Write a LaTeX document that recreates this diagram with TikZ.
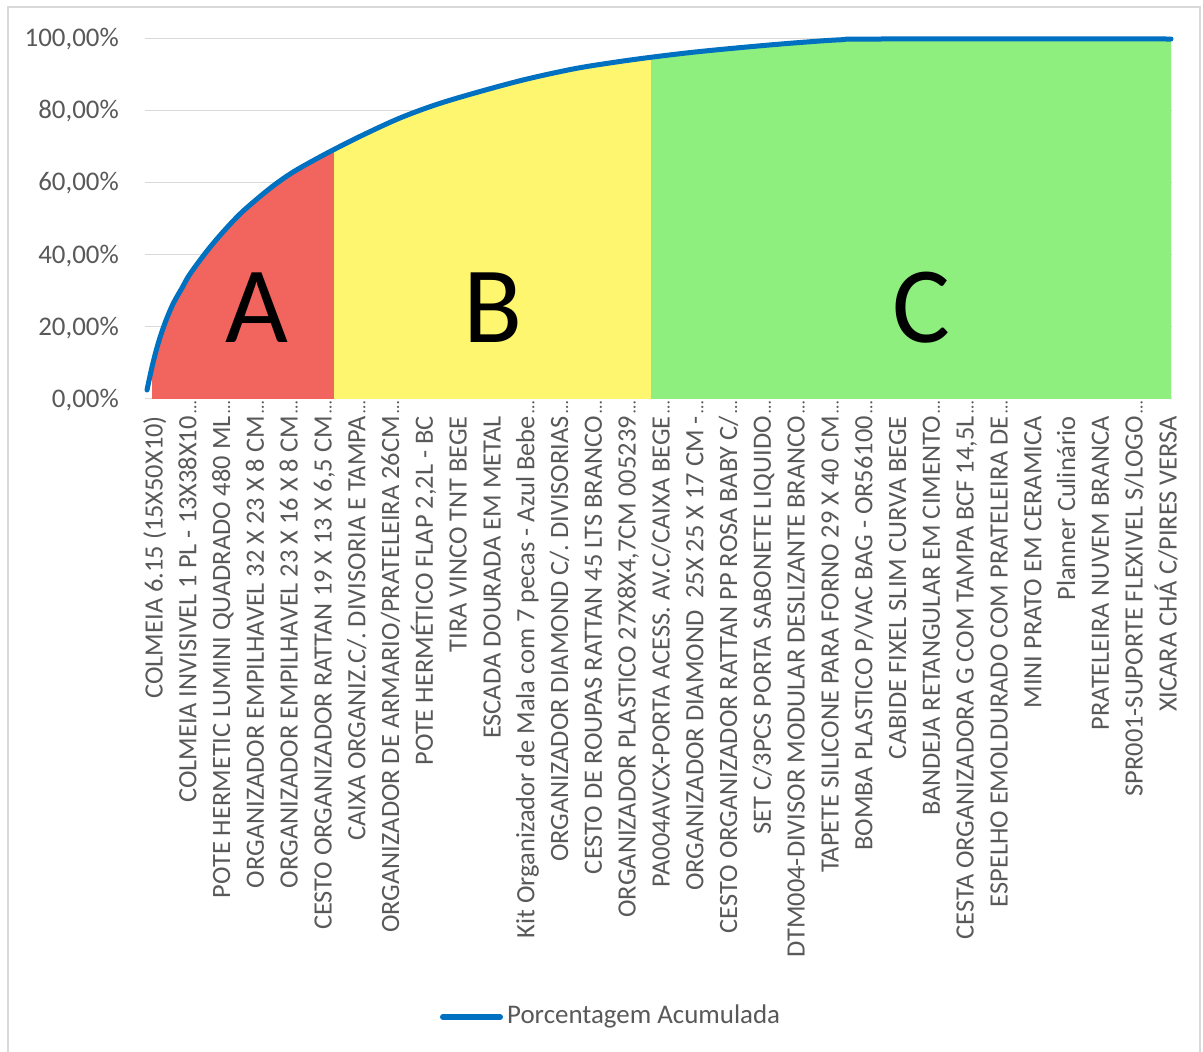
\documentclass[tikz,border=0pt]{standalone}
\usepackage{fontspec}
\setmainfont{Carlito}
\definecolor{cA}{HTML}{F2645E}
\definecolor{cB}{HTML}{FEF66E}
\definecolor{cC}{HTML}{8EEF7E}
\definecolor{cLine}{HTML}{0070C0}
\definecolor{cGrid}{HTML}{D9D9D9}
\definecolor{cText}{HTML}{595959}
\newcommand\myellip{\rlap{\hspace{3bp}{\fontsize{18}{18}\selectfont …}}}
\begin{document}
\frenchspacing
\begin{tikzpicture}[x=1bp,y=-1bp,
  ylab/.style={anchor=base east, inner sep=0pt, text=cText, font=\fontsize{27}{32}\selectfont},
  xlab/.style={rotate=90, anchor=base east, inner sep=0pt, text=cText, font=\fontsize{26.5}{32}\selectfont},
  bigletter/.style={anchor=base, inner sep=0pt, text=black, font=\fontsize{109}{120}\selectfont},
  gridline/.style={draw=cGrid, line width=1.5bp},
  paretocurve/.style={draw=cLine, line width=5bp, line cap=round, line join=round}]
\useasboundingbox (0,0) rectangle (1203,1052);
\fill[white] (0,0) rectangle (1203,1052);
\draw[cGrid, line width=2bp] (7.5,1060) -- (7.5,6.5) -- (1199.5,6.5) -- (1199.5,1060);
% gridlines
\foreach \v in {0,...,5}{
  \draw[gridline] (145,{398.6-72.06*\v}) -- (1172,{398.6-72.06*\v});
}
% coloured areas
\foreach \a/\b/\c in {152/334/cA,334/651/cB,651/1171/cC}{
  \begin{scope}
    \clip (\a,0) rectangle (\b,398);
    \fill[\c] plot[smooth, tension=0.55] coordinates {(147,390) (152,367) (158,344) (165,323) (173,304) (182,288) (190,274) (207,251) (223,232) (240,214) (257,199) (273,186) (290,174) (307,164) (333,150) (365,134) (400,118) (435,105) (473,93.5) (523,80) (573,69) (613,62.5) (653,57) (700,51.5) (758,46) (800,42.5) (840,39.8) (880,39) (1171,39)} -- (1171,400) -- (147,400) -- cycle;
  \end{scope}
}
% cumulative curve
\draw[paretocurve] plot[smooth, tension=0.55] coordinates {(147,390) (152,367) (158,344) (165,323) (173,304) (182,288) (190,274) (207,251) (223,232) (240,214) (257,199) (273,186) (290,174) (307,164) (333,150) (365,134) (400,118) (435,105) (473,93.5) (523,80) (573,69) (613,62.5) (653,57) (700,51.5) (758,46) (800,42.5) (840,39.8) (880,39) (1171,39)};
% class letters
\node[bigletter] (lA) at (257,342) {A};
\node[bigletter] (lB) at (493,342) {B};
\node[bigletter] (lC) at (921,342) {C};
% y axis labels
\node[ylab] (y0) at (119,407.1) {0,00\%};
\node[ylab] (y1) at (119,335.0) {20,00\%};
\node[ylab] (y2) at (119,263.0) {40,00\%};
\node[ylab] (y3) at (119,190.9) {60,00\%};
\node[ylab] (y4) at (119,118.9) {80,00\%};
\node[ylab] (y5) at (119,46.8) {100,00\%};
% x axis labels
\node[xlab] (x1) at (162.5,416) {COLMEIA 6.15 (15X50X10)};
\node[xlab] (x2) at (196.3,416) {COLMEIA INVISIVEL 1 PL - 13X38X10\myellip};
\node[xlab] (x3) at (230.1,416) {POTE HERMETIC LUMINI QUADRADO 480 ML\myellip};
\node[xlab] (x4) at (263.9,416) {ORGANIZADOR EMPILHAVEL 32 X 23 X 8 CM\myellip};
\node[xlab] (x5) at (297.7,416) {ORGANIZADOR EMPILHAVEL 23 X 16 X 8 CM\myellip};
\node[xlab] (x6) at (331.5,416) {CESTO ORGANIZADOR RATTAN 19 X 13 X 6,5 CM\myellip};
\node[xlab] (x7) at (365.3,416) {CAIXA ORGANIZ.C/. DIVISORIA E TAMPA\myellip};
\node[xlab] (x8) at (399.1,416) {ORGANIZADOR DE ARMARIO/PRATELEIRA 26CM\myellip};
\node[xlab] (x9) at (432.9,416) {POTE HERMÉTICO FLAP 2,2L - BC};
\node[xlab] (x10) at (466.7,416) {TIRA VINCO TNT BEGE};
\node[xlab] (x11) at (500.5,416) {ESCADA DOURADA EM METAL};
\node[xlab] (x12) at (534.3,416) {Kit Organizador de Mala com 7 pecas - Azul Bebe\myellip};
\node[xlab] (x13) at (568.1,416) {ORGANIZADOR DIAMOND C/. DIVISORIAS\myellip};
\node[xlab] (x14) at (601.9,416) {CESTO DE ROUPAS RATTAN 45 LTS BRANCO\myellip};
\node[xlab] (x15) at (635.7,416) {ORGANIZADOR PLASTICO 27X8X4,7CM 005239\myellip};
\node[xlab] (x16) at (669.5,416) {PA004AVCX-PORTA ACESS. AV.C/CAIXA BEGE\myellip};
\node[xlab] (x17) at (703.3,416) {ORGANIZADOR DIAMOND\ \ 25X 25 X 17 CM -\myellip};
\node[xlab] (x18) at (737.1,416) {CESTO ORGANIZADOR RATTAN PP ROSA BABY C/\myellip};
\node[xlab] (x19) at (770.9,416) {SET C/3PCS PORTA SABONETE LIQUIDO\myellip};
\node[xlab] (x20) at (804.7,416) {DTM004-DIVISOR MODULAR DESLIZANTE BRANCO\myellip};
\node[xlab] (x21) at (838.5,416) {TAPETE SILICONE PARA FORNO 29 X 40 CM\myellip};
\node[xlab] (x22) at (872.3,416) {BOMBA PLASTICO P/VAC BAG - OR56100\myellip};
\node[xlab] (x23) at (906.1,416) {CABIDE FIXEL SLIM CURVA BEGE};
\node[xlab] (x24) at (939.9,416) {BANDEJA RETANGULAR EM CIMENTO\myellip};
\node[xlab] (x25) at (973.7,416) {CESTA ORGANIZADORA G COM TAMPA BCF 14,5L\myellip};
\node[xlab] (x26) at (1007.5,416) {ESPELHO EMOLDURADO COM PRATELEIRA DE\myellip};
\node[xlab] (x27) at (1041.3,416) {MINI PRATO EM CERAMICA};
\node[xlab] (x28) at (1075.1,416) {Planner Culinário};
\node[xlab] (x29) at (1108.9,416) {PRATELEIRA NUVEM BRANCA};
\node[xlab] (x30) at (1142.7,416) {SPR001-SUPORTE FLEXIVEL S/LOGO\myellip};
\node[xlab] (x31) at (1176.5,416) {XICARA CHÁ C/PIRES VERSA};
% legend
\coordinate (leg1) at (443,1017);
\coordinate (leg2) at (500,1017);
\draw[cLine, line width=6bp, line cap=round] (leg1) -- (leg2);
\node[anchor=base west, inner sep=0pt, text=cText, font=\fontsize{27}{32}\selectfont] (legtext) at (507,1023) {Porcentagem Acumulada};
\end{tikzpicture}
\end{document}
